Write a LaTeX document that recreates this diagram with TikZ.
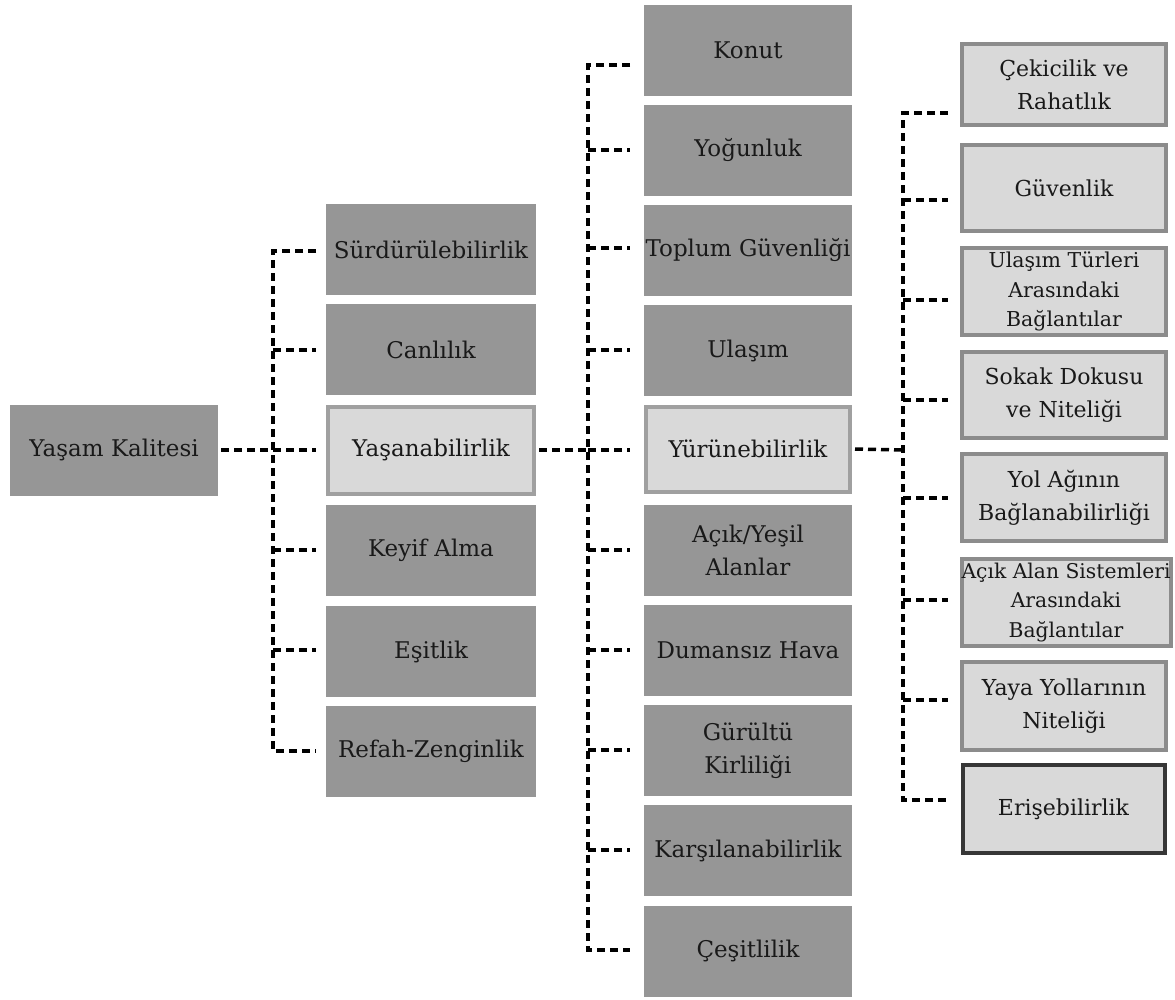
\documentclass[tikz,border=0pt]{standalone}
\usepackage{fontspec}
\setmainfont{DejaVu Serif}
\definecolor{darkfill}{RGB}{150,150,150}
\definecolor{lightfill}{RGB}{217,217,217}
\definecolor{lightedge}{RGB}{160,160,160}
\definecolor{edgefour}{RGB}{140,140,140}
\definecolor{erisedge}{RGB}{55,55,55}
\definecolor{txt}{RGB}{25,25,25}
\tikzset{
  basebox/.style={inner sep=0pt, align=center, text=txt, font=\fontsize{23}{33}\selectfont},
  darkbox/.style={basebox, fill=darkfill, draw=none, minimum width=210pt, minimum height=91pt},
  lightbox/.style={basebox, fill=lightfill, draw=lightedge, line width=4pt, minimum width=206pt, minimum height=87pt},
  fourbox/.style={basebox, font=\fontsize{22}{33}\selectfont, fill=lightfill, draw=edgefour, line width=4pt, minimum width=204pt, minimum height=#1},
  erisbox/.style={basebox, font=\fontsize{22}{33}\selectfont, fill=lightfill, draw=erisedge, line width=4pt, minimum width=202pt, minimum height=88pt},
  conn/.style={draw=black, line width=3.5pt, dash pattern=on 8pt off 5pt}
}
\begin{document}
\begin{tikzpicture}[x=1pt,y=-1pt]
\fill[white] (0,0) rectangle (1175,999);
\useasboundingbox (0,0) rectangle (1175,999);

% column 1
\node[darkbox, minimum width=208pt] (yk) at (114,450) {Yaşam Kalitesi};

% column 2
\node[darkbox] (s1) at (431,249.5) {Sürdürülebilirlik};
\node[darkbox] (s2) at (431,349.5) {Canlılık};
\node[lightbox] (s3) at (431,450) {Yaşanabilirlik};
\node[darkbox] (s4) at (431,550.5) {Keyif Alma};
\node[darkbox] (s5) at (431,651.5) {Eşitlik};
\node[darkbox] (s6) at (431,751.5) {Refah-Zenginlik};

% column 3
\node[darkbox, minimum width=208pt] (t1) at (748,50.5) {Konut};
\node[darkbox, minimum width=208pt] (t2) at (748,150.5) {Yoğunluk};
\node[darkbox, minimum width=208pt] (t3) at (748,250.5) {Toplum Güvenliği};
\node[darkbox, minimum width=208pt] (t4) at (748,350.5) {Ulaşım};
\node[lightbox, minimum width=204pt, minimum height=85pt] (t5) at (748,449) {Yürünebilirlik};
\node[darkbox, minimum width=208pt] (t6) at (748,550.5) {Açık/Yeşil\\Alanlar};
\node[darkbox, minimum width=208pt] (t7) at (748,650.5) {Dumansız Hava};
\node[darkbox, minimum width=208pt] (t8) at (748,750.5) {Gürültü\\Kirliliği};
\node[darkbox, minimum width=208pt] (t9) at (748,850.5) {Karşılanabilirlik};
\node[darkbox, minimum width=208pt] (t10) at (748,951) {Çeşitlilik};

% column 4
\node[fourbox=81pt] (f1) at (1064,84.5) {Çekicilik ve\\Rahatlık};
\node[fourbox=86pt] (f2) at (1064,188) {Güvenlik};
\node[fourbox=87pt, font=\fontsize{20.5}{29.5}\selectfont] (f3) at (1064,291.5) {Ulaşım Türleri\\Arasındaki\\Bağlantılar};
\node[fourbox=86pt] (f4) at (1064,395) {Sokak Dokusu\\ve Niteliği};
\node[fourbox=87pt] (f5) at (1064,497.5) {Yol Ağının\\Bağlanabilirliği};
\node[fourbox=87pt, minimum width=206pt, font=\fontsize{20.3}{29.5}\selectfont] (f6) at (1066,602.5) {Açık Alan Sistemleri\\Arasındaki\\Bağlantılar};
\node[fourbox=88pt] (f7) at (1064,706) {Yaya Yollarının\\Niteliği};
\node[erisbox] (f8) at (1063.5,809) {Erişebilirlik};

% bracket coordinates, column 2
\coordinate (j1) at (273,450);
\coordinate (a1) at (273,251); \coordinate (e1) at (316,251);
\coordinate (a2) at (273,350); \coordinate (e2) at (316,350);
\coordinate (e3) at (316,450);
\coordinate (a4) at (273,550); \coordinate (e4) at (316,550);
\coordinate (a5) at (273,650); \coordinate (e5) at (316,650);
\coordinate (a6) at (273,751); \coordinate (e6) at (316,751);

\draw[conn] ([xshift=3pt]yk.east) -- (j1);
\draw[conn] (e1) -- (a1) -- (a6) -- (e6);
\draw[conn] (a2) -- (e2);
\draw[conn] (j1) -- (e3);
\draw[conn] (a4) -- (e4);
\draw[conn] (a5) -- (e5);

% bracket coordinates, column 3
\coordinate (j2) at (588,450);
\coordinate (b1) at (588,65);  \coordinate (g1) at (630,65);
\coordinate (b2) at (588,150); \coordinate (g2) at (630,150);
\coordinate (b3) at (588,248); \coordinate (g3) at (630,248);
\coordinate (b4) at (588,350); \coordinate (g4) at (630,350);
\coordinate (g5) at (630,450);
\coordinate (b6) at (588,550); \coordinate (g6) at (630,550);
\coordinate (b7) at (588,650); \coordinate (g7) at (630,650);
\coordinate (b8) at (588,750); \coordinate (g8) at (630,750);
\coordinate (b9) at (588,850); \coordinate (g9) at (630,850);
\coordinate (b10) at (588,950); \coordinate (g10) at (630,950);

\draw[conn] ([xshift=3pt]s3.east) -- (j2);
\draw[conn] (g1) -- (b1) -- (b10) -- (g10);
\draw[conn] (b2) -- (g2);
\draw[conn] (b3) -- (g3);
\draw[conn] (b4) -- (g4);
\draw[conn] (j2) -- (g5);
\draw[conn] (b6) -- (g6);
\draw[conn] (b7) -- (g7);
\draw[conn] (b8) -- (g8);
\draw[conn] (b9) -- (g9);

% bracket coordinates, column 4
\coordinate (j3) at (903,450);
\coordinate (c1) at (903,113); \coordinate (h1) at (948,113);
\coordinate (c2) at (903,200); \coordinate (h2) at (948,200);
\coordinate (c3) at (903,300); \coordinate (h3) at (948,300);
\coordinate (c4) at (903,400); \coordinate (h4) at (948,400);
\coordinate (c5) at (903,498); \coordinate (h5) at (948,498);
\coordinate (c6) at (903,600); \coordinate (h6) at (948,600);
\coordinate (c7) at (903,700); \coordinate (h7) at (948,700);
\coordinate (c8) at (903,800); \coordinate (h8) at (948,800);

\draw[conn] ([xshift=3pt]t5.east) -- (j3);
\draw[conn] (h1) -- (c1) -- (c8) -- (h8);
\draw[conn] (c2) -- (h2);
\draw[conn] (c3) -- (h3);
\draw[conn] (c4) -- (h4);
\draw[conn] (c5) -- (h5);
\draw[conn] (c6) -- (h6);
\draw[conn] (c7) -- (h7);
\end{tikzpicture}
\end{document}
